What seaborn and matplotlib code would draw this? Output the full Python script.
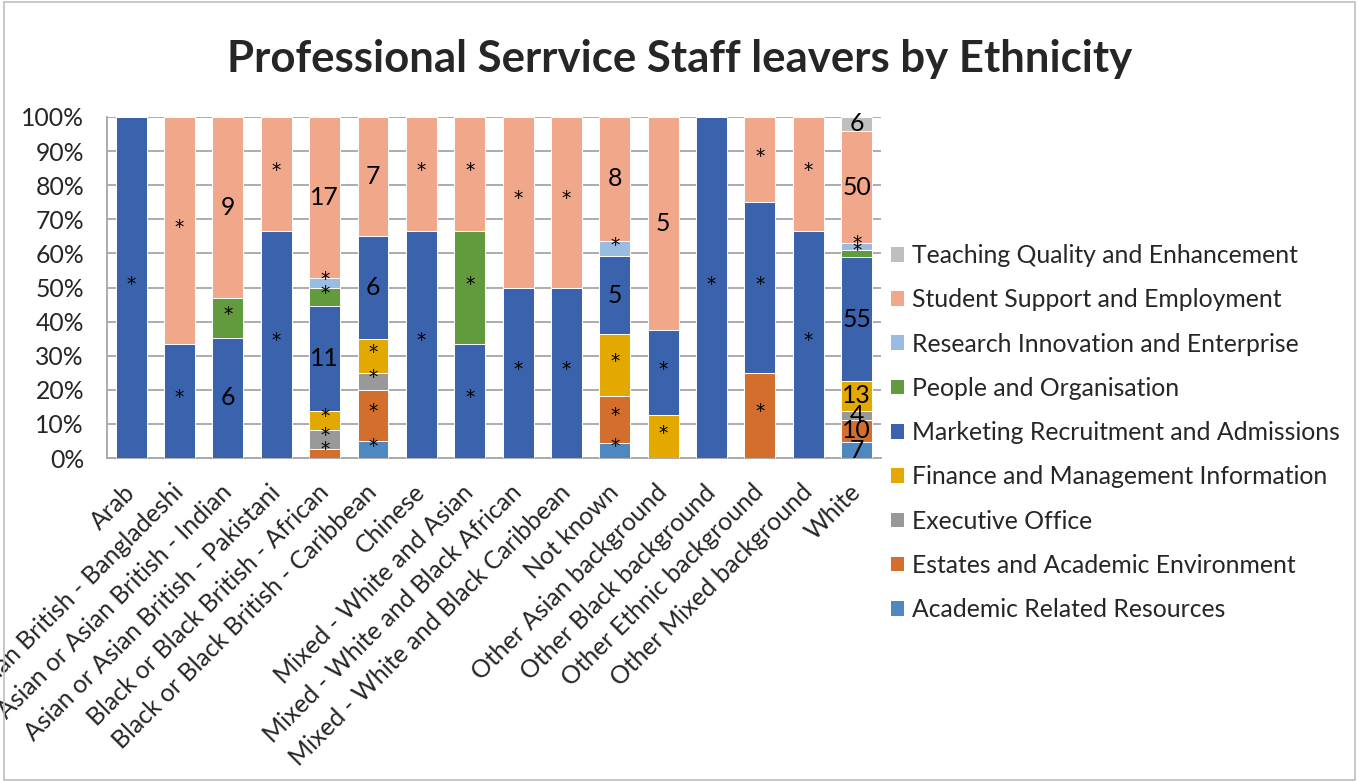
import matplotlib
matplotlib.use("Agg")
import matplotlib.pyplot as plt
from matplotlib.patches import Patch, Rectangle
import seaborn as sns
import pandas as pd
import numpy as np

ethnicities = [
    "Arab",
    "Asian or Asian British - Bangladeshi",
    "Asian or Asian British - Indian",
    "Asian or Asian British - Pakistani",
    "Black or Black British - African",
    "Black or Black British - Caribbean",
    "Chinese",
    "Mixed - White and Asian",
    "Mixed - White and Black African",
    "Mixed - White and Black Caribbean",
    "Not known",
    "Other Asian background",
    "Other Black background",
    "Other Ethnic background",
    "Other Mixed background",
    "White",
]

# Leaver counts per department (stacked bottom -> top)
academic_related = [0, 0, 0, 0, 0, 1, 0, 0, 0, 0, 1, 0, 0, 0, 0, 7]
estates = [0, 0, 0, 0, 1, 3, 0, 0, 0, 0, 3, 0, 0, 1, 0, 10]
executive = [0, 0, 0, 0, 2, 1, 0, 0, 0, 0, 0, 0, 0, 0, 0, 4]
finance = [0, 0, 0, 0, 2, 2, 0, 0, 0, 0, 4, 1, 0, 0, 0, 13]
marketing = [1, 1, 6, 2, 11, 6, 2, 1, 1, 1, 5, 2, 1, 2, 2, 55]
people = [0, 0, 2, 0, 2, 0, 0, 1, 0, 0, 0, 0, 0, 0, 0, 3]
research = [0, 0, 0, 0, 1, 0, 0, 0, 0, 0, 1, 0, 0, 0, 0, 3]
student = [0, 2, 9, 1, 17, 7, 1, 1, 1, 1, 8, 5, 0, 1, 1, 50]
teaching = [0, 0, 0, 0, 0, 0, 0, 0, 0, 0, 0, 0, 0, 0, 0, 6]

departments = [
    ("Academic Related Resources", academic_related, "#4F87C0"),
    ("Estates and Academic Environment", estates, "#D46E2C"),
    ("Executive Office", executive, "#999999"),
    ("Finance and Management Information", finance, "#E3A900"),
    ("Marketing Recruitment and Admissions", marketing, "#3B63AD"),
    ("People and Organisation", people, "#629A3E"),
    ("Research Innovation and Enterprise", research, "#9BBCE1"),
    ("Student Support and Employment", student, "#F1A78A"),
    ("Teaching Quality and Enhancement", teaching, "#BFBFBF"),
]

counts = np.array([d[1] for d in departments], dtype=float)
totals = counts.sum(axis=0)
shares = counts / totals
tops = np.cumsum(shares, axis=0)

sns.set_theme(style="white")
plt.rcParams["font.family"] = ["Lato", "DejaVu Sans"]

FS = 17.8

fig = plt.figure(figsize=(13.59, 7.82), dpi=100)
ax = fig.add_axes([0.0787, 0.4143, 0.5695, 0.4361])

# Stack by drawing cumulative bars from the top layer down
for k in range(len(departments) - 1, -1, -1):
    name, _, color = departments[k]
    layer = pd.DataFrame({"ethnicity": ethnicities, "top": tops[k]})
    sns.barplot(data=layer, x="ethnicity", y="top", order=ethnicities,
                color=color, saturation=1, width=0.64, errorbar=None,
                edgecolor="white", linewidth=0.7, ax=ax, zorder=3)

# Segment labels: small counts are suppressed with an asterisk
for j in range(len(ethnicities)):
    threshold = 4 if totals[j] > 100 else 5
    for k in range(len(departments)):
        c = counts[k, j]
        if c <= 0:
            continue
        centre = tops[k, j] - shares[k, j] / 2
        if c >= threshold:
            ax.annotate(str(int(c)), (j, centre), xytext=(0, 0),
                        textcoords="offset points", ha="center", va="center",
                        fontsize=FS, color="black", zorder=5)
        else:
            ax.annotate("*", (j, centre), xytext=(0, 2.5),
                        textcoords="offset points", ha="center", va="center",
                        fontsize=13.5, family="DejaVu Sans", color="black",
                        zorder=5)

ax.set_xlim(-0.5, 15.5)
ax.set_ylim(0, 1)
ax.set_yticks(np.arange(0, 1.01, 0.1))
ax.set_yticklabels([f"{int(round(v * 100))}%" for v in np.arange(0, 1.01, 0.1)],
                   fontsize=FS)
ax.yaxis.grid(True, color="#A6A6A6", linewidth=1.3, zorder=0)
ax.set_axisbelow(True)
ax.tick_params(axis="y", length=5, color="#A6A6A6", width=1.3, pad=11.5)
ax.tick_params(axis="x", length=0, pad=22)
ax.set_xticks(range(len(ethnicities)))
ax.set_xticklabels(ethnicities, rotation=45, ha="right", va="center",
                   rotation_mode="anchor", fontsize=FS)
ax.set_xlabel("")
ax.set_ylabel("")
for side in ["top", "right"]:
    ax.spines[side].set_visible(False)
for side in ["left", "bottom"]:
    ax.spines[side].set_color("#A6A6A6")
    ax.spines[side].set_linewidth(1.3)

fig.suptitle("Professional Serrvice Staff leavers by Ethnicity",
             x=0.5, y=0.925, va="center", fontsize=31.5, fontweight="bold")

handles = [Patch(facecolor=d[2], edgecolor="none", label=d[0])
           for d in reversed(departments)]
fig.legend(handles=handles, loc="upper left", bbox_to_anchor=(0.6556, 0.688),
           frameon=False, fontsize=FS, handlelength=0.53, handleheight=0.53,
           handletextpad=0.32, labelspacing=0.86, borderpad=0, borderaxespad=0)

fig.patches.append(Rectangle((0.003, 0.002), 0.994, 0.995, transform=fig.transFigure,
                             fill=False, edgecolor="#BFBFBF", linewidth=1.2))

fig.savefig("out.png", dpi=100)
